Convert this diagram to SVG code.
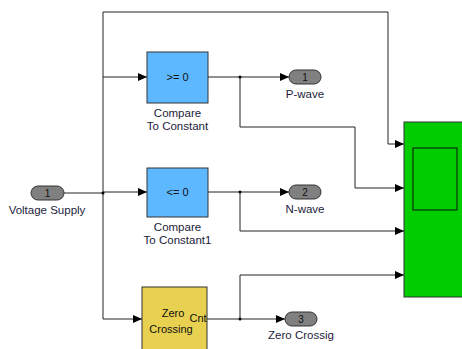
<svg xmlns="http://www.w3.org/2000/svg" width="462" height="349" viewBox="0 0 462 349">
<defs>
<marker id="ah" markerWidth="9" markerHeight="8" refX="9" refY="4" orient="auto" markerUnits="userSpaceOnUse">
<path d="M0,0 L9,4 L0,8 Z" fill="#000"/>
</marker>
<style>
.ln{fill:none;stroke:#222;stroke-width:1}
.t{font-family:"Liberation Sans",Arial,sans-serif;font-size:11.5px;fill:#1c1c3c;text-anchor:middle}
.bt{font-family:"Liberation Sans",Arial,sans-serif;font-size:11px;fill:#111;text-anchor:middle}
.cmp{fill:#5eb8ff;stroke:#333;stroke-width:1}
.zc{fill:#e8d050;stroke:#333;stroke-width:1}
.port{fill:#808080;stroke:#333;stroke-width:1}
.pt{font-family:"Liberation Sans",Arial,sans-serif;font-size:10px;fill:#111;text-anchor:middle}
</style>
</defs>
<rect width="462" height="349" fill="#fff"/>
<g id="connectors">
<path class="ln" d="M64,193 H103"/>
<path class="ln" d="M103,12 V319"/>
<path class="ln" d="M103,12 H388 V144 H404" marker-end="url(#ah)"/>
<path class="ln" d="M103,77 H147" marker-end="url(#ah)"/>
<path class="ln" d="M103,192 H147" marker-end="url(#ah)"/>
<path class="ln" d="M103,319 H142" marker-end="url(#ah)"/>
<path class="ln" d="M208,77 H289" marker-end="url(#ah)"/>
<path class="ln" d="M240,77 V127 H355 V188 H404" marker-end="url(#ah)"/>
<path class="ln" d="M208,192 H289" marker-end="url(#ah)"/>
<path class="ln" d="M240,192 V231 H404" marker-end="url(#ah)"/>
<path class="ln" d="M207,319 H285" marker-end="url(#ah)"/>
<path class="ln" d="M240,319 V275 H404" marker-end="url(#ah)"/>
<circle cx="103" cy="193" r="1.5" fill="#000"/>
<circle cx="240" cy="77" r="1.5" fill="#000"/>
<circle cx="240" cy="192" r="1.5" fill="#000"/>
<circle cx="240" cy="319" r="1.5" fill="#000"/>
</g>
<g id="voltage-supply">
<rect class="port" x="31" y="186" width="33" height="14" rx="7"/>
<text class="pt" x="47.5" y="197">1</text>
<text class="t" x="47" y="214">Voltage Supply</text>
</g>
<g id="compare1">
<rect class="cmp" x="147" y="52" width="61" height="51"/>
<text class="bt" x="177.5" y="81">&gt;= 0</text>
<text class="t" x="177.5" y="117">Compare</text>
<text class="t" x="177.5" y="130">To Constant</text>
</g>
<g id="compare2">
<rect class="cmp" x="147" y="168" width="61" height="49"/>
<text class="bt" x="177.5" y="196">&lt;= 0</text>
<text class="t" x="177.5" y="231">Compare</text>
<text class="t" x="177.5" y="244">To Constant1</text>
</g>
<g id="zero-crossing">
<rect class="zc" x="142" y="287" width="65" height="70"/>
<text class="bt" x="173" y="317">Zero</text>
<text class="bt" x="171" y="333">Crossing</text>
<text class="bt" x="198" y="322">Cnt</text>
</g>
<g id="p-wave">
<rect class="port" x="289" y="70" width="32" height="14" rx="7"/>
<text class="pt" x="305" y="81">1</text>
<text class="t" x="305" y="98">P-wave</text>
</g>
<g id="n-wave">
<rect class="port" x="289" y="185" width="32" height="14" rx="7"/>
<text class="pt" x="305" y="196">2</text>
<text class="t" x="305" y="213">N-wave</text>
</g>
<g id="zero-crossig">
<rect class="port" x="285" y="312" width="32" height="14" rx="7"/>
<text class="pt" x="301" y="323">3</text>
<text class="t" x="301" y="339">Zero Crossig</text>
</g>
<g id="scope">
<rect x="404" y="122" width="62" height="175" fill="#00cc00" stroke="#333" stroke-width="1"/>
<rect x="413" y="148" width="44" height="62" fill="none" stroke="#111" stroke-width="1"/>
</g>
</svg>
